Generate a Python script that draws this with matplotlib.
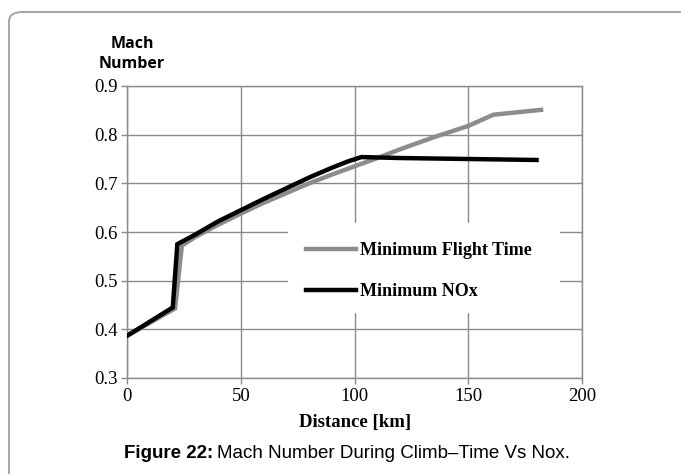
import matplotlib.pyplot as plt
from matplotlib.patches import FancyBboxPatch, Rectangle

# donnees
dist_temps = [0, 21, 24, 30, 40, 50, 60, 70, 80, 90, 100, 110, 120, 135, 150, 161, 182]
mach_temps = [0.387, 0.443, 0.572, 0.590, 0.615, 0.638, 0.660, 0.680, 0.700, 0.718, 0.735,
              0.752, 0.770, 0.795, 0.818, 0.841, 0.851]

dist_nox = [0, 20, 22, 30, 40, 50, 60, 70, 80, 90, 97, 103, 120, 150, 180]
mach_nox = [0.387, 0.445, 0.575, 0.595, 0.622, 0.645, 0.668, 0.690, 0.712, 0.732, 0.745,
            0.754, 0.752, 0.750, 0.748]

x_ticks = [0, 50, 100, 150, 200]
y_ticks = [0.3, 0.4, 0.5, 0.6, 0.7, 0.8, 0.9]

W, H = 681, 474
fig = plt.figure(figsize=(W / 100, H / 100), dpi=100)

# cadre arrondi autour de la figure
cadre = FancyBboxPatch((9 / W, -0.1), 1.2, 1.1 - 12 / H,
                       boxstyle='round,pad=0,rounding_size=0.02',
                       transform=fig.transFigure, facecolor='none',
                       edgecolor='#a8a8a8', linewidth=1.5)
fig.patches.append(cadre)

x0, y0, w, h = 127.3, 378, 454.7, 292
ax = fig.add_axes([x0 / W, 1 - y0 / H, w / W, h / H])
gris = '#8a8a8a'
ax.set_xlim(0, 200)
ax.set_ylim(0.3, 0.9)
ax.set_xticks(x_ticks)
ax.set_yticks(y_ticks)
ax.set_xticklabels([str(v) for v in x_ticks])
ax.set_yticklabels(['%.1f' % v for v in y_ticks])
ax.grid(True, color=gris, linewidth=1)
ax.set_axisbelow(True)
for s in ax.spines.values():
    s.set_color(gris)
    s.set_linewidth(1)
ax.tick_params(length=4, width=1, color=gris, labelsize=13.5, pad=3)
for lab in ax.get_xticklabels() + ax.get_yticklabels():
    lab.set_fontfamily('Liberation Serif')

# fond blanc de la legende (cache la grille)
ax.add_patch(Rectangle(((288 - x0) / w, (y0 - 313) / h), (560 - 288) / w, 90 / h,
                       transform=ax.transAxes, facecolor='white', edgecolor='none', zorder=1))

ax.plot(dist_temps, mach_temps, color='#8c8c8c', linewidth=3.2, label='Minimum Flight Time',
        solid_joinstyle='miter', zorder=2)
ax.plot(dist_nox, mach_nox, color='black', linewidth=3.2, label='Minimum NOx',
        solid_joinstyle='miter', zorder=3)

leg = ax.legend(loc='upper left', bbox_to_anchor=((306 - x0) / w, (y0 - 242) / h),
                frameon=False, borderpad=0, handlelength=2.75,
                handletextpad=0.25, labelspacing=1.33, borderaxespad=0,
                prop={'family': 'Liberation Serif', 'weight': 'bold', 'size': 13})

ax.set_xlabel('Distance [km]', fontfamily='Liberation Serif', fontweight='bold',
              fontsize=13.5, labelpad=7)

fig.text(132 / W, 1 - 54 / H, 'Mach\nNumber', ha='center', va='center',
         fontfamily='Open Sans', fontweight='bold', fontsize=11.5, linespacing=1.3)

# legende de la figure
t1 = fig.text(124 / W, 1 - 453 / H, 'Figure 22:', ha='left', va='center',
              fontfamily='Liberation Sans', fontweight='bold', fontsize=13.5)
fig.canvas.draw()
bb = t1.get_window_extent()
fig.text((bb.x1 + 4) / W, 1 - 453 / H, 'Mach Number During Climb–Time Vs Nox.', ha='left',
         va='center', fontfamily='Liberation Sans', fontsize=13.5)

fig.savefig('out.png', dpi=100)
